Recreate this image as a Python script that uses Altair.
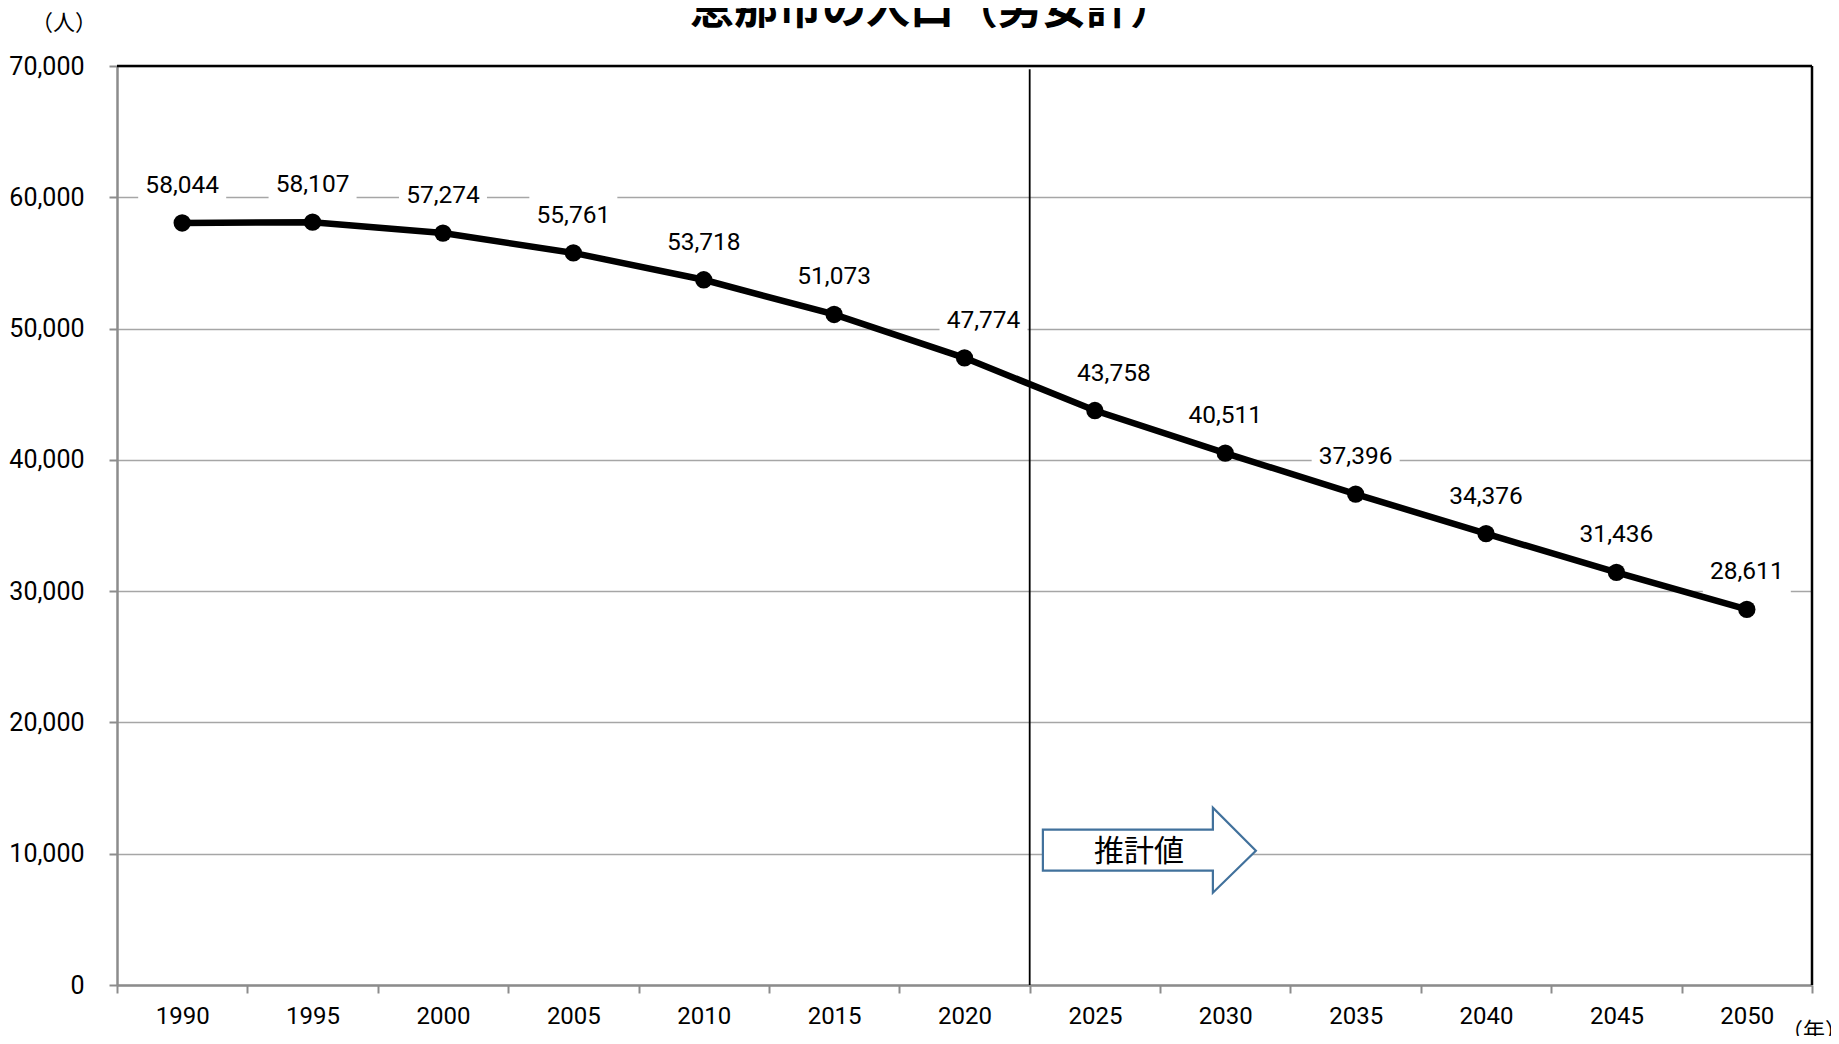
import json
import altair as alt
import pandas as pd

# ---------------- data ----------------
years = ["1990", "1995", "2000", "2005", "2010", "2015", "2020",
         "2025", "2030", "2035", "2040", "2045", "2050"]
population = [58044, 58107, 57274, 55761, 53718, 51073, 47774,
              43758, 40511, 37396, 34376, 31436, 28611]
y_ticks = [0, 10000, 20000, 30000, 40000, 50000, 60000, 70000]

title_text = "恵那市の人口（男女計）"
y_unit = "（人）"
x_unit = "（年）"
forecast_label = "推計値"
forecast_start = "2025"
forecast_arrow_value = 10000
shifted_label_years = ["2020", "2025"]
last_year = "2050"

df = pd.DataFrame({"year": years, "pop": population})

# ---------------- layout ----------------
W, H = 1695, 919
FONT_NUM = "Roboto"
FONT_JP = "Noto Sans CJK JP"
GRAY = "#8c8c8c"

x_scale = alt.Scale(type="band", domain=years, paddingInner=0, paddingOuter=0)
y_scale = alt.Scale(domain=[0, 70000], nice=False, zero=True)

x_axis = alt.Axis(title=None, tickBand="extent", labelAngle=0, labelFont=FONT_NUM,
                  labelFontSize=24, labelColor="black", labelPadding=11,
                  tickColor=GRAY, tickWidth=2, tickSize=8,
                  domainColor=GRAY, domainWidth=2.5, grid=False)
y_axis = alt.Axis(title=None, values=y_ticks, format=",d", labelFont=FONT_NUM,
                  labelFontSize=25, labelColor="black", labelPadding=25,
                  tickColor=GRAY, tickWidth=2, tickSize=8,
                  domainColor=GRAY, domainWidth=2.5,
                  gridColor="#a6a6a6", gridWidth=1.5)


def X(bp=0.5):
    return alt.X("year:N", scale=x_scale, axis=x_axis, bandPosition=bp)


def Y():
    return alt.Y("pop:Q", scale=y_scale, axis=y_axis)


base = alt.Chart(df)

shift_expr_in = f"indexof({json.dumps(shifted_label_years)}, datum.year) >= 0"
shift_expr_out = f"indexof({json.dumps(shifted_label_years)}, datum.year) < 0"

LABEL_DY = -37
LABEL_SHIFT = 19
box_path = "M-1,-0.5H1V0.5H-1Z"

boxes = base.transform_filter(shift_expr_out).mark_point(
    shape=box_path, size=7744, filled=True, fill="white", opacity=1,
    strokeWidth=0, yOffset=LABEL_DY
).encode(x=X(), y=Y())
boxes_shift = base.transform_filter(shift_expr_in).mark_point(
    shape=box_path, size=7744, filled=True, fill="white", opacity=1,
    strokeWidth=0, yOffset=LABEL_DY, xOffset=LABEL_SHIFT
).encode(x=X(), y=Y())

forecast_df = pd.DataFrame({"year": [forecast_start], "pop": [forecast_arrow_value]})
vrule = alt.Chart(forecast_df).mark_rule(color="black", strokeWidth=1.8).encode(
    x=X(0), y=alt.YDatum(69750), y2=alt.Y2Datum(0)
)

line = base.mark_line(color="black", strokeWidth=6.5).encode(x=X(), y=Y())
points = base.mark_circle(color="black", size=300, opacity=1).encode(x=X(), y=Y())

labels = base.transform_filter(shift_expr_out).mark_text(
    font=FONT_NUM, fontSize=24.5, color="black", baseline="middle", align="center",
    dy=LABEL_DY
).encode(x=X(), y=Y(), text=alt.Text("pop:Q", format=",d"))
labels_shift = base.transform_filter(shift_expr_in).mark_text(
    font=FONT_NUM, fontSize=24.5, color="black", baseline="middle", align="center",
    dy=LABEL_DY, dx=LABEL_SHIFT
).encode(x=X(), y=Y(), text=alt.Text("pop:Q", format=",d"))

top_border = alt.Chart(forecast_df).mark_rule(color="black", strokeWidth=2.5).encode(
    y=alt.YDatum(70000)
)
right_df = pd.DataFrame({"year": [last_year]})
right_border = alt.Chart(right_df).mark_rule(color="black", strokeWidth=2.5).encode(
    x=X(1)
)

arrow_path = ("M-0.52,-0.24 L1.18,-0.24 L1.18,-0.46 L1.61,-0.03 "
              "L1.18,0.39 L1.18,0.17 L-0.52,0.17 Z")
arrow = alt.Chart(forecast_df).mark_point(
    shape=arrow_path, size=40000, filled=True, fill="white", opacity=1,
    stroke="#41719C", strokeWidth=2.2, strokeOpacity=1
).encode(x=X(), y=Y())
arrow_text = alt.Chart(forecast_df).mark_text(
    text=forecast_label, font=FONT_JP, fontSize=30, color="black",
    baseline="middle", align="center", dx=44, dy=-2
).encode(x=X(), y=Y())

txt_df = pd.DataFrame({"t": [title_text], "yu": [y_unit], "xu": [x_unit]})
title = alt.Chart(txt_df).mark_text(
    font=FONT_JP, fontSize=44, fontWeight="bold", color="black",
    baseline="alphabetic", align="center"
).encode(text="t:N", x=alt.value(815), y=alt.value(-42))
y_unit_txt = alt.Chart(txt_df).mark_text(
    font=FONT_JP, fontSize=22, color="black", baseline="middle", align="center"
).encode(text="yu:N", x=alt.value(-53), y=alt.value(-43))
x_unit_txt = alt.Chart(txt_df).mark_text(
    font=FONT_JP, fontSize=22, color="black", baseline="middle", align="left"
).encode(text="xu:N", x=alt.value(1664), y=alt.value(965))

chart = alt.layer(
    boxes, boxes_shift, vrule, line, points, labels, labels_shift,
    top_border, right_border, arrow, arrow_text, title, y_unit_txt, x_unit_txt
).properties(
    width=W, height=H,
    padding={"left": 109, "top": 58, "right": 19, "bottom": 51},
    autosize=alt.AutoSizeParams(type="none"),
    background="white",
).configure_view(stroke=None)

chart.save("out.html", embed_options={"renderer": "svg", "actions": False})
